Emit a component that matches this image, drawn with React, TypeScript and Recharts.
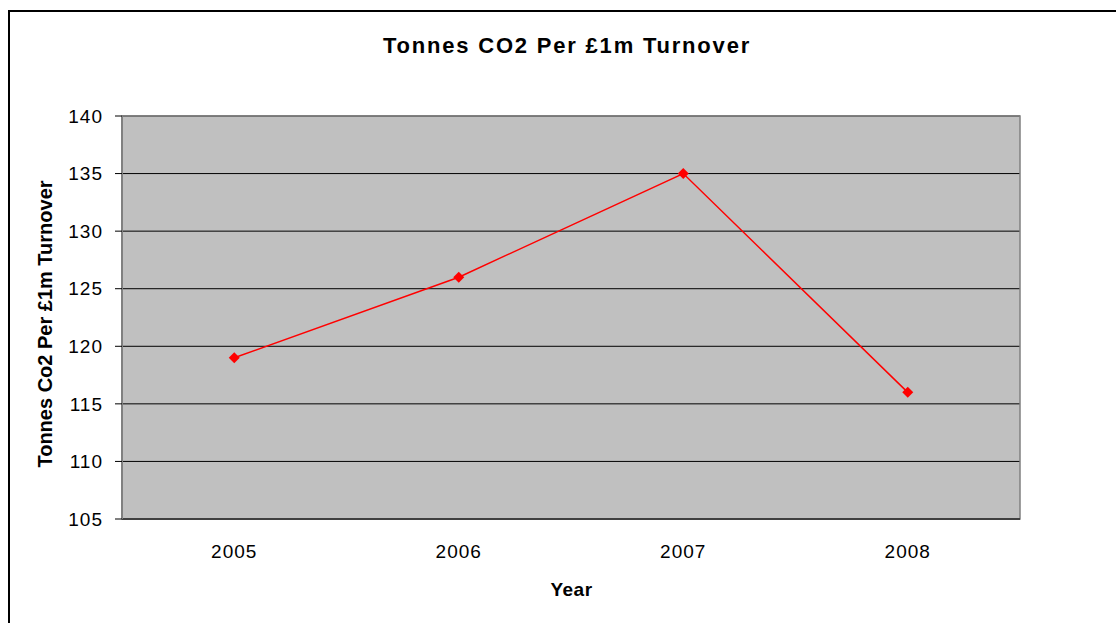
import {
  ComposedChart,
  Line,
  XAxis,
  YAxis,
  CartesianGrid,
  ReferenceArea,
} from 'recharts';

const YEARS = ['2005', '2006', '2007', '2008'];
const CO2_PER_MILLION = [119, 126, 135, 116];
const Y_TICKS = [105, 110, 115, 120, 125, 130, 135, 140];
const EDGE_TICKS = [0, 1, 2, 3, 4];

const FONT = '"Liberation Sans", Arial, sans-serif';

const chartData = YEARS.map((year, i) => ({ year, value: CO2_PER_MILLION[i] }));

function Diamond(props: { cx?: number; cy?: number }) {
  const { cx, cy } = props;
  if (cx == null || cy == null) return null;
  const r = 5.5;
  return (
    <polygon
      points={`${cx},${cy - r} ${cx + r},${cy} ${cx},${cy + r} ${cx - r},${cy}`}
      fill="#ff0000"
    />
  );
}

export default function App() {
  return (
    <div
      style={{
        position: 'absolute',
        left: 0,
        top: 0,
        width: 1116,
        height: 623,
        overflow: 'hidden',
        background: '#fff',
        fontFamily: FONT,
      }}
    >
      <div
        style={{
          position: 'absolute',
          left: 8,
          top: 10,
          width: 1130,
          height: 640,
          border: '2px solid #000',
          boxSizing: 'border-box',
        }}
      />
      <div
        style={{
          position: 'absolute',
          left: 0,
          top: 33,
          width: 1134,
          textAlign: 'center',
          fontSize: 22,
          fontWeight: 'bold',
          letterSpacing: 1.8,
          color: '#000',
        }}
      >
        Tonnes CO2 Per £1m Turnover
      </div>
      <div
        style={{
          position: 'absolute',
          left: 0,
          top: 579,
          width: 1143,
          textAlign: 'center',
          fontSize: 19,
          fontWeight: 'bold',
          letterSpacing: 0.5,
          color: '#000',
        }}
      >
        Year
      </div>
      <svg
        width={70}
        height={623}
        style={{ position: 'absolute', left: 0, top: 0 }}
      >
        <text
          x={52}
          y={324}
          transform="rotate(-90 52 324)"
          textAnchor="middle"
          fontFamily={FONT}
          fontSize={20}
          fontWeight="bold"
          fill="#000"
        >
          Tonnes Co2 Per £1m Turnover
        </text>
      </svg>
      <div style={{ position: 'absolute', left: 0, top: 0 }}>
        <ComposedChart
          width={1116}
          height={623}
          data={chartData}
          margin={{ top: 116, right: 96, bottom: 74, left: 42 }}
        >
          <CartesianGrid
            vertical={false}
            stroke="#000"
            fill="#c0c0c0"
            fillOpacity={1}
            horizontalValues={Y_TICKS}
          />
          <ReferenceArea
            y1={105}
            y2={140}
            fill="none"
            stroke="#808080"
            strokeWidth={1.5}
          />
          <XAxis
            xAxisId="edge"
            type="number"
            domain={[0, 4]}
            ticks={EDGE_TICKS}
            tickFormatter={() => ''}
            tickSize={7}
            axisLine={false}
            tickLine={{ stroke: '#000' }}
            height={0}
          />
          <XAxis
            dataKey="year"
            scale="band"
            tickLine={false}
            axisLine={{ stroke: '#404040', strokeWidth: 2 }}
            tickSize={7}
            tickMargin={19}
            tick={{ fontSize: 19, fill: '#000', fontFamily: FONT, letterSpacing: 1 }}
          />
          <YAxis
            width={80}
            domain={[105, 140]}
            ticks={Y_TICKS}
            interval={0}
            tickSize={7}
            tickMargin={12}
            axisLine={{ stroke: '#808080', strokeWidth: 2 }}
            tickLine={{ stroke: '#000' }}
            tick={{ fontSize: 19, fill: '#000', fontFamily: FONT, letterSpacing: 1 }}
          />
          <Line
            dataKey="value"
            stroke="#ff0000"
            strokeWidth={1.5}
            dot={<Diamond />}
            activeDot={false}
            isAnimationActive={false}
          />
        </ComposedChart>
      </div>
    </div>
  );
}
